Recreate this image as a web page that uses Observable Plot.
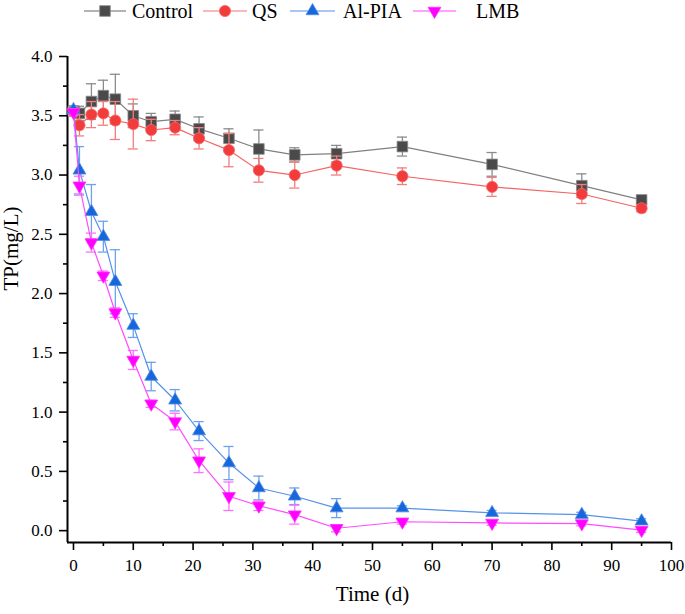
<!DOCTYPE html>
<html><head><meta charset="utf-8">
<script src="https://cdn.jsdelivr.net/npm/d3@7"></script>
<script src="https://cdn.jsdelivr.net/npm/@observablehq/plot@0.6"></script>
<style>
body{margin:0;background:#fff;font-family:"Liberation Serif",serif;}
#wrap{position:relative;width:685px;height:614px;overflow:hidden;}
#legend{position:absolute;left:0;top:0;}
#chart{position:absolute;left:0;top:24px;}
svg text{font-family:"Liberation Serif",serif !important;}
</style></head><body>
<div id="wrap"><svg id="legend" width="685" height="24"></svg><div id="chart"></div></div>
<script>
// ---- data ----
const times = [0, 1, 3, 5, 7, 10, 13, 17, 21, 26, 31, 37, 44, 55, 70, 85, 95];
const seriesNames = ["Control", "QS", "Al-PIA", "LMB"];
const controlValues = [3.54, 3.52, 3.62, 3.67, 3.64, 3.50, 3.45, 3.47, 3.39, 3.31, 3.22, 3.17, 3.18, 3.24, 3.09, 2.91, 2.79];
const controlErrors = [0.03, 0.06, 0.15, 0.13, 0.21, 0.10, 0.07, 0.07, 0.10, 0.08, 0.16, 0.06, 0.07, 0.08, 0.10, 0.10, 0.03];
const qsValues = [3.54, 3.42, 3.51, 3.52, 3.46, 3.43, 3.38, 3.40, 3.31, 3.21, 3.04, 3.00, 3.08, 2.99, 2.90, 2.84, 2.72];
const qsErrors = [0.03, 0.09, 0.11, 0.10, 0.16, 0.21, 0.09, 0.06, 0.09, 0.14, 0.10, 0.11, 0.08, 0.07, 0.08, 0.08, 0.03];
const alpiaValues = [3.55, 3.04, 2.69, 2.48, 2.10, 1.73, 1.30, 1.10, 0.84, 0.57, 0.36, 0.29, 0.19, 0.19, 0.15, 0.135, 0.08];
const alpiaErrors = [0.03, 0.20, 0.23, 0.13, 0.27, 0.10, 0.12, 0.09, 0.08, 0.14, 0.10, 0.07, 0.08, 0.02, 0.02, 0.02, 0.02];
const lmbValues = [3.53, 2.91, 2.43, 2.15, 1.84, 1.44, 1.07, 0.92, 0.59, 0.29, 0.21, 0.135, 0.02, 0.075, 0.065, 0.06, 0.005];
const lmbErrors = [0.03, 0.08, 0.08, 0.04, 0.04, 0.08, 0.03, 0.07, 0.10, 0.12, 0.04, 0.08, 0.03, 0.02, 0.02, 0.02, 0.02];
const xMajorTicks = [0, 10, 20, 30, 40, 50, 60, 70, 80, 90, 100];
const xMinorTicks = [5, 15, 25, 35, 45, 55, 65, 75, 85, 95];
const yMajorTicks = [0, 0.5, 1, 1.5, 2, 2.5, 3, 3.5, 4];
const yMinorTicks = [0.25, 0.75, 1.25, 1.75, 2.25, 2.75, 3.25, 3.75];

// ---- styles ----
const FONT = '"Liberation Serif", serif';
const styles = {
  "Control": {symbol: "square", r: 6, fill: "#4a4a4a", mstroke: "#8a8a8a", line: "#808080", err: "#8c8c8c", legendLine: "#9a9a9a", rotate: 0},
  "QS": {symbol: "circle", r: 5.6, fill: "#f23c3c", mstroke: "#f56a6a", line: "#f46464", err: "#f47c7c", legendLine: "#f5a3a3", rotate: 0},
  "Al-PIA": {symbol: "triangle", r: 4.8, fill: "#1766dc", mstroke: "#4d8ce6", line: "#5592e8", err: "#6ea2ee", legendLine: "#8ab6f2", rotate: 0},
  "LMB": {symbol: "triangle", r: 4.8, fill: "#ff00ff", mstroke: "#ff33ff", line: "#ff4cff", err: "#ff70ff", legendLine: "#ff85ff", rotate: 180}
};
const valueLists = [controlValues, qsValues, alpiaValues, lmbValues];
const errorLists = [controlErrors, qsErrors, alpiaErrors, lmbErrors];

const marks = [];
seriesNames.forEach((name, si) => {
  const st = styles[name];
  const d = times.map((t, i) => ({t, v: valueLists[si][i], e: errorLists[si][i]}));
  marks.push(
    Plot.ruleX(d, {x: "t", y1: p => p.v - p.e, y2: p => p.v + p.e, stroke: st.err, strokeWidth: 1.3}),
    Plot.ruleY(d, {y: p => p.v + p.e, x1: p => p.t - 0.85, x2: p => p.t + 0.85, stroke: st.err, strokeWidth: 1.3}),
    Plot.ruleY(d, {y: p => p.v - p.e, x1: p => p.t - 0.85, x2: p => p.t + 0.85, stroke: st.err, strokeWidth: 1.3}),
    Plot.line(d, {x: "t", y: "v", stroke: st.line, strokeWidth: 1.2}),
    Plot.dot(d, {x: "t", y: "v", symbol: st.symbol, r: st.r, fill: st.fill, stroke: st.mstroke, strokeWidth: 0.8, rotate: st.rotate})
  );
});

const chart = Plot.plot({
  width: 685,
  height: 590,
  marginLeft: 67,
  marginRight: 14,
  marginTop: 32,
  marginBottom: 72,
  style: {fontFamily: FONT, fontSize: "17px", color: "#000", background: "#fff"},
  x: {domain: [-1, 100], label: null},
  y: {domain: [-0.1, 4.0], label: null},
  marks: [
    Plot.axisX(xMinorTicks, {tickSize: 4, tickFormat: () => "", strokeWidth: 1.6, label: null}),
    Plot.axisX(xMajorTicks, {tickSize: 8, tickPadding: 8, fontSize: 17, fontFamily: FONT, strokeWidth: 1.6, label: null}),
    Plot.axisY(yMinorTicks, {tickSize: 4, tickFormat: () => "", strokeWidth: 1.6, label: null}),
    Plot.axisY(yMajorTicks, {tickSize: 8, tickPadding: 7, fontSize: 17, fontFamily: FONT, tickFormat: d3.format(".1f"), strokeWidth: 1.6, label: null}),
    Plot.ruleX([-1], {strokeWidth: 2}),
    Plot.ruleY([-0.1], {strokeWidth: 2}),
    ...marks,
    Plot.text(["TP(mg/L)"], {frameAnchor: "left", dx: -56, dy: -9, rotate: -90, fontSize: 21, fontFamily: FONT, text: d => d}),
    Plot.text(["Time (d)"], {frameAnchor: "bottom", dx: 3, dy: 58, fontSize: 21, fontFamily: FONT, text: d => d})
  ]
});
document.getElementById("chart").appendChild(chart);

// ---- legend ----
const leg = d3.select("#legend");
const legendItems = [
  {name: "Control", x1: 84, x2: 126, tx: 132},
  {name: "QS", x1: 203, x2: 247, tx: 252},
  {name: "Al-PIA", x1: 290, x2: 335, tx: 343},
  {name: "LMB", x1: 413, x2: 456, tx: 476}
];
legendItems.forEach(it => {
  const st = styles[it.name];
  const cy = 11;
  leg.append("line").attr("x1", it.x1).attr("x2", it.x2).attr("y1", cy).attr("y2", cy)
    .attr("stroke", st.legendLine).attr("stroke-width", 1.5);
  const cx = (it.x1 + it.x2) / 2;
  const size = Math.PI * st.r * st.r;
  const sym = {square: d3.symbolSquare, circle: d3.symbolCircle, triangle: d3.symbolTriangle}[st.symbol];
  leg.append("path").attr("d", d3.symbol(sym, size)())
    .attr("transform", `translate(${cx},${cy}) rotate(${st.rotate})`)
    .attr("fill", st.fill).attr("stroke", st.mstroke).attr("stroke-width", 0.8);
  leg.append("text").attr("x", it.tx).attr("y", cy).attr("dy", "0.35em")
    .style("font-family", FONT).attr("font-size", 20)
    .attr("fill", "#000").text(it.name);
});
</script>
</body></html>
